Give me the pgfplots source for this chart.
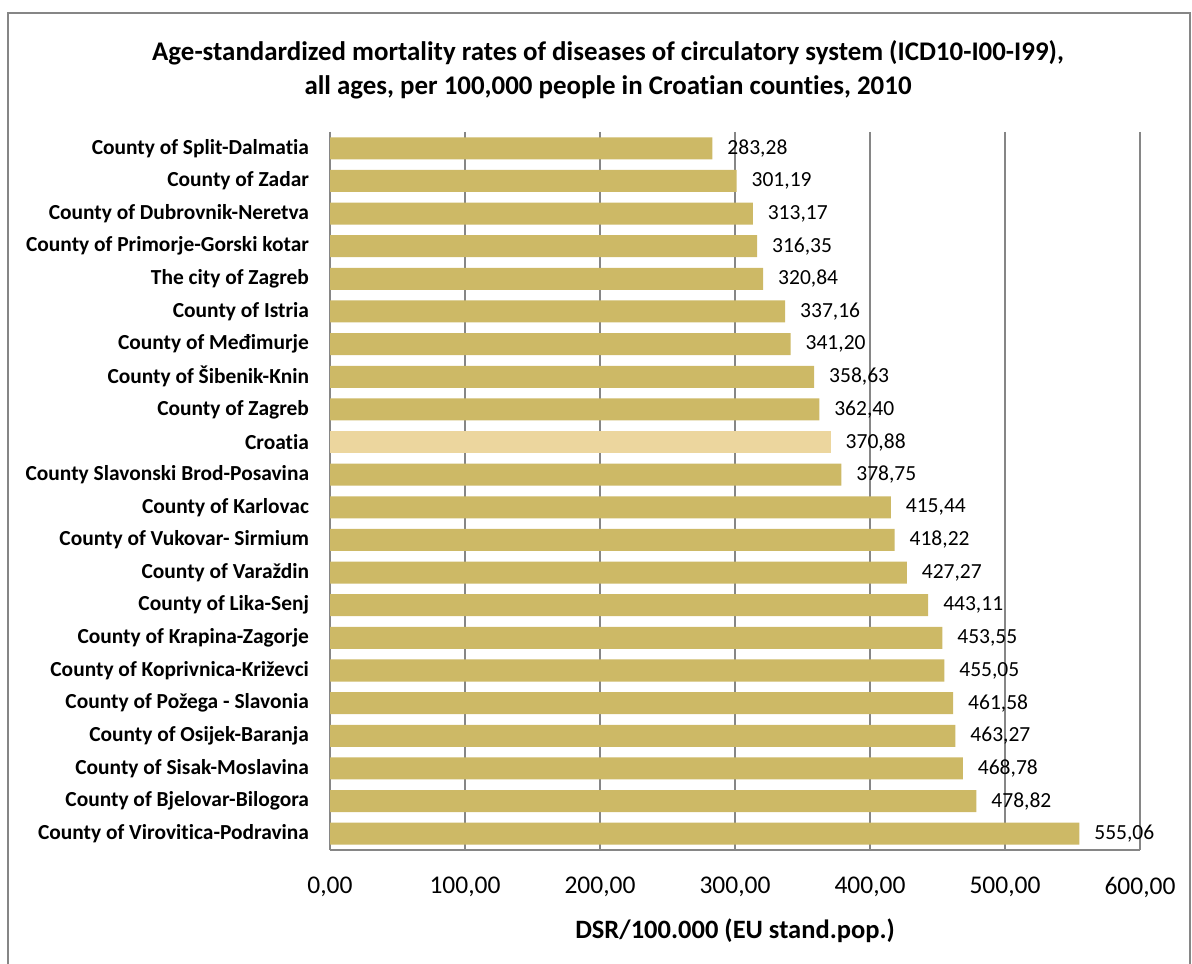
\documentclass[border=0pt]{standalone}
\usepackage{pgfplots}
\pgfplotsset{compat=1.18}
\usepackage{fontspec}
\setmainfont[Ligatures=NoCommon]{Carlito}
\definecolor{barcol}{RGB}{205,185,102}
\definecolor{hrcol}{RGB}{236,214,158}
\definecolor{gridcol}{RGB}{134,134,134}
\definecolor{framecol}{RGB}{134,134,134}
\begin{document}
\begin{tikzpicture}[x=1bp,y=1bp]
\useasboundingbox (0,0) rectangle (596,482);
\draw[framecol,line width=0.9bp] (4,-5) rectangle (595,475.5);
\node[font=\bfseries\fontsize{13.5}{17}\selectfont,align=center] at (304,447)
  {Age-standardized mortality rates of diseases of circulatory system (ICD10-I00-I99),\\
   all ages, per 100,000 people in Croatian counties, 2010};
\begin{axis}[
  at={(165bp,57bp)}, anchor=south west,
  scale only axis, width=405bp, height=359bp,
  xmin=0, xmax=600, ymin=-0.5, ymax=21.5, y dir=reverse,
  xbar, bar width=11bp,
  axis x line*=bottom, axis y line*=left,
  axis line style={gridcol,line width=0.8bp},
  xmajorgrids, grid style={gridcol,line width=0.8bp},
  xtick={0,100,...,600}, major tick length=0pt,
  ytick={0,...,21},
  yticklabels={County of Split-Dalmatia,County of Zadar,County of Dubrovnik-Neretva,County of Primorje-Gorski kotar,The city of Zagreb,County of Istria,County of Međimurje,County of Šibenik-Knin,County of Zagreb,Croatia,County Slavonski Brod-Posavina,County of Karlovac,County of Vukovar- Sirmium,County of Varaždin,County of Lika-Senj,County of Krapina-Zagorje,County of Koprivnica-Križevci,County of Požega - Slavonia,County of Osijek-Baranja,County of Sisak-Moslavina,County of Bjelovar-Bilogora,County of Virovitica-Podravina},
  yticklabel style={font=\bfseries\fontsize{10.75}{12}\selectfont, xshift=-7bp},
  xticklabel style={font=\fontsize{12.8}{14}\selectfont, yshift=-10bp},
  /pgf/number format/assume math mode=true,
  /pgf/number format/.cd, fixed, fixed zerofill, precision=2, use comma, 1000 sep={},
  /pgfplots/.cd,
  xlabel={DSR/100.000 (EU stand.pop.)},
  xlabel style={font=\bfseries\fontsize{13.3}{15}\selectfont, yshift=-4bp},
  nodes near coords,
  nodes near coords style={font=\fontsize{10.8}{12}\selectfont, anchor=west, xshift=4bp,
    /pgf/number format/.cd, fixed, fixed zerofill, precision=2, use comma, assume math mode=true},
  every axis plot/.append style={bar shift=0pt},
  clip=false,
]
\addplot[fill=barcol, draw=none] coordinates {
  (283.28,0) (301.19,1) (313.17,2) (316.35,3) (320.84,4) (337.16,5)
  (341.20,6) (358.63,7) (362.40,8)
  (378.75,10) (415.44,11) (418.22,12) (427.27,13) (443.11,14) (453.55,15)
  (455.05,16) (461.58,17) (463.27,18) (468.78,19) (478.82,20) (555.06,21)
};
\addplot[fill=hrcol, draw=none] coordinates { (370.88,9) };
\end{axis}
\end{tikzpicture}
\end{document}
